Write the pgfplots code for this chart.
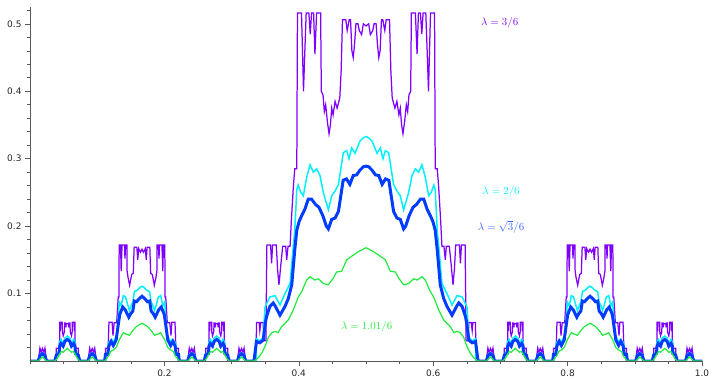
\documentclass[border=0pt]{standalone}
\usepackage{pgfplots}
\pgfplotsset{compat=1.18}
\usepackage{fontspec}
\newfontfamily\dejavu{DejaVu Sans}
\definecolor{cpur}{RGB}{127,0,255}
\definecolor{ccya}{RGB}{0,240,255}
\definecolor{cblu}{RGB}{0,60,255}
\definecolor{cgre}{RGB}{30,235,60}
\begin{document}
\begin{tikzpicture}
\begin{axis}[
  scale only axis, width=672bp, height=354bp,
  xmin=0, xmax=1, ymin=0, ymax=0.525,
  axis lines=left, axis line style={-, black!65, line width=0.6pt},
  axis on top,
  tick align=outside,
  major tick length=5bp, minor tick length=3bp,
  every tick/.style={black!65, line width=0.6pt},
  xtick={0.2,0.4,0.6,0.8,1.0},
  minor xtick={0,0.05,0.1,0.15,0.25,0.3,0.35,0.45,0.5,0.55,0.65,0.7,0.75,0.85,0.9,0.95},
  ytick={0.1,0.2,0.3,0.4,0.5},
  minor ytick={0.02,0.04,0.06,0.08,0.12,0.14,0.16,0.18,0.22,0.24,0.26,0.28,0.32,0.34,0.36,0.38,0.42,0.44,0.46,0.48,0.52},
  /pgf/number format/.cd, fixed, fixed zerofill, precision=1, assume math mode=true,
  /pgfplots/.cd,
  tick label style={font=\dejavu\fontsize{9}{10}\selectfont, text=black!85},
]
\coordinate (sw) at (rel axis cs:0,0);
\coordinate (ne) at (rel axis cs:1,1);
% lambda = 3/6
\addplot[cpur, line width=1.25pt] coordinates {
(0,0)
(0.0123,0)(0.0148,0.019)(0.0165,0.013)(0.0185,0.0185)(0.0206,0.013)(0.0222,0.019)(0.0247,0)
(0.0370,0)(0.0391,0)(0.0392,0.019)(0.0430,0.019)(0.0441,0.0317)(0.0442,0.0573)(0.0449,0.0573)(0.0452,0.0444)(0.0457,0.0573)(0.0481,0.0573)(0.0482,0.044)(0.0494,0.0374)(0.0512,0.0433)(0.0517,0.0562)(0.0530,0.0562)(0.0534,0.050)(0.0539,0.0556)(0.0556,0.0552)(0.0572,0.0556)(0.0577,0.050)(0.0581,0.0562)(0.0594,0.0562)(0.0599,0.0433)(0.0617,0.0374)(0.0629,0.044)(0.0630,0.0573)(0.0654,0.0573)(0.0659,0.0444)(0.0662,0.0573)(0.0669,0.0573)(0.0670,0.0317)(0.0681,0.019)(0.0719,0.019)(0.0720,0)(0.0741,0)
(0.0864,0)(0.0888,0.019)(0.0905,0.013)(0.0926,0.0185)(0.0946,0.013)(0.0963,0.019)(0.0988,0)
(0.1111,0)(0.1122,0)(0.1123,0.019)(0.1157,0.019)(0.1160,0.010)(0.1175,0.0573)(0.1222,0.0573)(0.1235,0.0377)(0.1253,0.0567)(0.1290,0.0567)(0.1313,0.095)(0.1323,0.095)(0.1327,0.172)(0.1347,0.172)(0.1357,0.1333)(0.1370,0.172)(0.1407,0.172)(0.1413,0.1517)(0.1422,0.172)(0.1442,0.172)(0.1445,0.1333)(0.1460,0.1233)(0.1483,0.1123)(0.1513,0.1283)(0.1537,0.13)(0.1550,0.1687)(0.1590,0.1687)(0.1603,0.15)(0.1617,0.1667)(0.1645,0.1613)(0.1667,0.1657)
(0.1688,0.1613)(0.1716,0.1667)(0.1730,0.15)(0.1743,0.1687)(0.1783,0.1687)(0.1796,0.13)(0.1820,0.1283)(0.1850,0.1123)(0.1873,0.1233)(0.1888,0.1333)(0.1891,0.172)(0.1911,0.172)(0.1920,0.1517)(0.1926,0.172)(0.1963,0.172)(0.1976,0.1333)(0.1986,0.172)(0.2006,0.172)(0.2010,0.095)(0.2020,0.095)(0.2043,0.0567)(0.2080,0.0567)(0.2098,0.0377)(0.2111,0.0573)(0.2158,0.0573)(0.2173,0.010)(0.2176,0.019)(0.2210,0.019)(0.2211,0)(0.2222,0)
(0.2346,0)(0.2370,0.019)(0.2387,0.013)(0.2408,0.0185)(0.2428,0.013)(0.2445,0.019)(0.2469,0)
(0.2593,0)(0.2613,0)(0.2614,0.019)(0.2652,0.019)(0.2663,0.0317)(0.2664,0.0573)(0.2671,0.0573)(0.2674,0.0444)(0.2679,0.0573)(0.2703,0.0573)(0.2704,0.044)(0.2716,0.0374)(0.2734,0.0433)(0.2739,0.0562)(0.2752,0.0562)(0.2756,0.050)(0.2761,0.0556)(0.2778,0.0552)(0.2794,0.0556)(0.2799,0.050)(0.2803,0.0562)(0.2816,0.0562)(0.2821,0.0433)(0.2839,0.0374)(0.2851,0.044)(0.2852,0.0573)(0.2876,0.0573)(0.2881,0.0444)(0.2884,0.0573)(0.2891,0.0573)(0.2892,0.0317)(0.2903,0.019)(0.2941,0.019)(0.2942,0)(0.2963,0)
(0.3086,0)(0.3110,0.019)(0.3127,0.013)(0.3148,0.0185)(0.3168,0.013)(0.3185,0.019)(0.3210,0)
(0.3333,0)(0.3365,0)(0.3370,0.057)(0.3410,0.057)(0.3420,0.045)(0.3435,0.057)(0.3470,0.057)(0.3480,0.030)(0.3510,0.030)(0.3525,0.172)(0.3580,0.172)(0.3595,0.145)(0.3610,0.172)(0.3665,0.172)(0.3685,0.135)(0.3705,0.113)(0.3730,0.140)(0.3760,0.170)(0.3805,0.170)(0.3820,0.150)(0.3840,0.170)(0.3870,0.170)(0.3890,0.210)(0.3920,0.260)(0.3940,0.285)(0.3970,0.285)(0.3980,0.516)(0.4040,0.516)(0.4055,0.460)(0.4070,0.400)(0.4090,0.460)(0.4110,0.516)(0.4150,0.516)(0.4170,0.485)(0.4190,0.516)(0.4220,0.516)(0.4240,0.455)(0.4265,0.516)(0.4325,0.516)(0.4335,0.400)(0.4360,0.395)(0.4380,0.370)(0.4400,0.380)(0.4425,0.355)(0.4450,0.337)(0.4470,0.350)(0.4490,0.375)(0.4510,0.365)(0.4540,0.385)(0.4570,0.375)(0.4610,0.390)(0.4630,0.430)(0.4650,0.506)(0.4700,0.506)(0.4720,0.490)(0.4750,0.506)(0.4770,0.506)(0.4790,0.460)(0.4810,0.450)(0.4830,0.470)(0.4850,0.500)(0.4880,0.500)(0.4900,0.490)(0.4935,0.484)(0.4960,0.500)(0.5000,0.497)
(0.504,0.5)(0.5065,0.484)(0.51,0.49)(0.512,0.5)(0.515,0.5)(0.517,0.47)(0.519,0.45)(0.521,0.46)(0.523,0.506)(0.525,0.506)(0.528,0.49)(0.53,0.506)(0.535,0.506)(0.537,0.43)(0.539,0.39)(0.543,0.375)(0.546,0.385)(0.549,0.365)(0.551,0.375)(0.553,0.35)(0.555,0.337)(0.5575,0.355)(0.56,0.38)(0.562,0.37)(0.564,0.395)(0.5665,0.4)(0.5675,0.516)(0.5735,0.516)(0.576,0.455)(0.578,0.516)(0.581,0.516)(0.583,0.485)(0.585,0.516)(0.589,0.516)(0.591,0.46)(0.593,0.4)(0.5945,0.46)(0.596,0.516)(0.602,0.516)(0.603,0.285)(0.606,0.285)(0.608,0.26)(0.611,0.21)(0.613,0.17)(0.616,0.17)(0.618,0.15)(0.6195,0.17)(0.624,0.17)(0.627,0.14)(0.6295,0.113)(0.6315,0.135)(0.6335,0.172)(0.639,0.172)(0.6405,0.145)(0.642,0.172)(0.6475,0.172)(0.649,0.03)(0.652,0.03)(0.653,0.057)(0.6565,0.057)(0.658,0.045)(0.659,0.057)(0.663,0.057)(0.6635,0)(0.6667,0)
(0.6790,0)(0.6814,0.019)(0.6831,0.013)(0.6852,0.0185)(0.6872,0.013)(0.6889,0.019)(0.6914,0)
(0.7037,0)(0.7058,0)(0.7059,0.019)(0.7097,0.019)(0.7108,0.0317)(0.7109,0.0573)(0.7116,0.0573)(0.7119,0.0444)(0.7124,0.0573)(0.7148,0.0573)(0.7149,0.044)(0.7161,0.0374)(0.7179,0.0433)(0.7184,0.0562)(0.7197,0.0562)(0.7201,0.050)(0.7206,0.0556)(0.7223,0.0552)(0.7239,0.0556)(0.7244,0.050)(0.7248,0.0562)(0.7261,0.0562)(0.7266,0.0433)(0.7284,0.0374)(0.7296,0.044)(0.7297,0.0573)(0.7321,0.0573)(0.7326,0.0444)(0.7329,0.0573)(0.7336,0.0573)(0.7337,0.0317)(0.7348,0.019)(0.7386,0.019)(0.7387,0)(0.7408,0)
(0.7531,0)(0.7555,0.019)(0.7572,0.013)(0.7593,0.0185)(0.7613,0.013)(0.7630,0.019)(0.7654,0)
(0.7778,0)(0.7789,0)(0.7790,0.019)(0.7824,0.019)(0.7827,0.010)(0.7842,0.0573)(0.7889,0.0573)(0.7902,0.0377)(0.7920,0.0567)(0.7957,0.0567)(0.7980,0.095)(0.7990,0.095)(0.7994,0.172)(0.8014,0.172)(0.8024,0.1333)(0.8037,0.172)(0.8074,0.172)(0.8080,0.1517)(0.8089,0.172)(0.8109,0.172)(0.8112,0.1333)(0.8127,0.1233)(0.8150,0.1123)(0.8180,0.1283)(0.8204,0.13)(0.8217,0.1687)(0.8257,0.1687)(0.8270,0.15)(0.8284,0.1667)(0.8312,0.1613)(0.8334,0.1657)
(0.8355,0.1613)(0.8383,0.1667)(0.8397,0.15)(0.8410,0.1687)(0.8450,0.1687)(0.8463,0.13)(0.8487,0.1283)(0.8517,0.1123)(0.8540,0.1233)(0.8555,0.1333)(0.8558,0.172)(0.8578,0.172)(0.8587,0.1517)(0.8593,0.172)(0.8630,0.172)(0.8643,0.1333)(0.8653,0.172)(0.8673,0.172)(0.8677,0.095)(0.8687,0.095)(0.8710,0.0567)(0.8747,0.0567)(0.8765,0.0377)(0.8778,0.0573)(0.8825,0.0573)(0.8840,0.010)(0.8843,0.019)(0.8877,0.019)(0.8878,0)(0.8889,0)
(0.9012,0)(0.9036,0.019)(0.9053,0.013)(0.9074,0.0185)(0.9094,0.013)(0.9111,0.019)(0.9136,0)
(0.9259,0)(0.9280,0)(0.9281,0.019)(0.9319,0.019)(0.9330,0.0317)(0.9331,0.0573)(0.9338,0.0573)(0.9341,0.0444)(0.9346,0.0573)(0.9370,0.0573)(0.9371,0.044)(0.9383,0.0374)(0.9401,0.0433)(0.9406,0.0562)(0.9419,0.0562)(0.9423,0.050)(0.9428,0.0556)(0.9445,0.0552)(0.9461,0.0556)(0.9466,0.050)(0.9470,0.0562)(0.9483,0.0562)(0.9488,0.0433)(0.9506,0.0374)(0.9518,0.044)(0.9519,0.0573)(0.9543,0.0573)(0.9548,0.0444)(0.9551,0.0573)(0.9558,0.0573)(0.9559,0.0317)(0.9570,0.019)(0.9608,0.019)(0.9609,0)(0.9630,0)
(0.9753,0)(0.9777,0.019)(0.9794,0.013)(0.9815,0.0185)(0.9835,0.013)(0.9852,0.019)(0.9877,0)
(1,0)
};
% lambda = 2/6
\addplot[ccya, line width=1.5pt] coordinates {
(0,0)
(0.0123,0)(0.0148,0.0095)(0.0185,0.0123)(0.0222,0.0095)(0.0247,0)
(0.0370,0)(0.0392,0.010)(0.0433,0.015)(0.0442,0.029)(0.0463,0.032)(0.0494,0.025)(0.0518,0.034)(0.0556,0.037)(0.0593,0.034)(0.0617,0.025)(0.0648,0.032)(0.0669,0.029)(0.0678,0.015)(0.0719,0.010)(0.0741,0)
(0.0864,0)(0.0889,0.0095)(0.0926,0.0123)(0.0963,0.0095)(0.0988,0)
(0.1111,0)(0.1123,0.011)(0.1157,0.012)(0.1166,0.027)(0.1215,0.032)(0.1240,0.028)(0.1290,0.038)(0.1313,0.065)(0.1330,0.087)(0.1356,0.082)(0.1389,0.097)(0.1422,0.095)(0.1455,0.083)(0.1480,0.075)(0.1513,0.084)(0.1530,0.087)(0.1554,0.103)(0.1596,0.105)(0.1637,0.109)(0.1667,0.111)(0.1697,0.109)(0.1737,0.105)(0.1779,0.103)(0.1803,0.087)(0.1820,0.084)(0.1853,0.075)(0.1878,0.083)(0.1911,0.095)(0.1944,0.097)(0.1977,0.082)(0.2003,0.087)(0.2020,0.065)(0.2043,0.038)(0.2093,0.028)(0.2118,0.032)(0.2167,0.027)(0.2176,0.012)(0.2210,0.011)(0.2222,0)
(0.2346,0)(0.2371,0.0095)(0.2408,0.0123)(0.2445,0.0095)(0.2469,0)
(0.2592,0)(0.2614,0.010)(0.2655,0.015)(0.2664,0.029)(0.2685,0.032)(0.2716,0.025)(0.2740,0.034)(0.2778,0.037)(0.2815,0.034)(0.2839,0.025)(0.2870,0.032)(0.2891,0.029)(0.2900,0.015)(0.2941,0.010)(0.2963,0)
(0.3086,0)(0.3111,0.0095)(0.3148,0.0123)(0.3185,0.0095)(0.3210,0)
(0.3333,0)(0.3365,0)(0.337,0.033)(0.342,0.030)(0.347,0.035)(0.3497,0.080)(0.357,0.095)(0.3646,0.097)(0.372,0.083)(0.3795,0.100)(0.387,0.115)(0.390,0.150)(0.394,0.194)(0.397,0.254)(0.399,0.261)(0.403,0.250)(0.4067,0.245)(0.4117,0.272)(0.4167,0.291)(0.4216,0.280)(0.4266,0.285)(0.4315,0.275)(0.4365,0.250)(0.444,0.224)(0.449,0.245)(0.454,0.252)(0.459,0.262)(0.4663,0.309)(0.4712,0.312)(0.4747,0.300)(0.4787,0.316)(0.4836,0.308)(0.491,0.326)(0.496,0.331)(0.5,0.333)
(0.504,0.331)(0.509,0.326)(0.5164,0.308)(0.5213,0.316)(0.5253,0.300)(0.5288,0.312)(0.5337,0.309)(0.541,0.262)(0.546,0.252)(0.551,0.245)(0.556,0.224)(0.5635,0.250)(0.5685,0.275)(0.5734,0.285)(0.5784,0.280)(0.5833,0.291)(0.5883,0.272)(0.5933,0.245)(0.597,0.250)(0.601,0.261)(0.603,0.254)(0.606,0.194)(0.610,0.150)(0.613,0.115)(0.6205,0.100)(0.628,0.083)(0.6354,0.097)(0.643,0.095)(0.6503,0.080)(0.653,0.035)(0.658,0.030)(0.663,0.033)(0.6635,0)(0.6667,0)
(0.6790,0)(0.6815,0.0095)(0.6852,0.0123)(0.6889,0.0095)(0.6914,0)
(0.7037,0)(0.7059,0.010)(0.7100,0.015)(0.7109,0.029)(0.7130,0.032)(0.7161,0.025)(0.7185,0.034)(0.7223,0.037)(0.7260,0.034)(0.7284,0.025)(0.7315,0.032)(0.7336,0.029)(0.7345,0.015)(0.7386,0.010)(0.7408,0)
(0.7531,0)(0.7556,0.0095)(0.7593,0.0123)(0.7630,0.0095)(0.7654,0)
(0.7778,0)(0.7790,0.011)(0.7824,0.012)(0.7833,0.027)(0.7882,0.032)(0.7907,0.028)(0.7957,0.038)(0.7980,0.065)(0.7997,0.087)(0.8023,0.082)(0.8056,0.097)(0.8089,0.095)(0.8122,0.083)(0.8147,0.075)(0.8180,0.084)(0.8197,0.087)(0.8221,0.103)(0.8263,0.105)(0.8304,0.109)(0.8334,0.111)(0.8364,0.109)(0.8404,0.105)(0.8446,0.103)(0.8470,0.087)(0.8487,0.084)(0.8520,0.075)(0.8545,0.083)(0.8578,0.095)(0.8611,0.097)(0.8644,0.082)(0.8670,0.087)(0.8687,0.065)(0.8710,0.038)(0.8760,0.028)(0.8785,0.032)(0.8834,0.027)(0.8843,0.012)(0.8877,0.011)(0.8889,0)
(0.9012,0)(0.9037,0.0095)(0.9074,0.0123)(0.9111,0.0095)(0.9136,0)
(0.9259,0)(0.9281,0.010)(0.9322,0.015)(0.9331,0.029)(0.9352,0.032)(0.9383,0.025)(0.9407,0.034)(0.9445,0.037)(0.9482,0.034)(0.9506,0.025)(0.9537,0.032)(0.9558,0.029)(0.9567,0.015)(0.9608,0.010)(0.9630,0)
(0.9753,0)(0.9778,0.0095)(0.9815,0.0123)(0.9852,0.0095)(0.9877,0)
(1,0)
};
% lambda = sqrt(3)/6
\addplot[cblu, line width=3pt] coordinates {
(0,0)
(0.0123,0)(0.0148,0.008)(0.0185,0.0107)(0.0222,0.008)(0.0247,0)
(0.0370,0)(0.0392,0.009)(0.0433,0.011)(0.0442,0.022)(0.0460,0.026)(0.0494,0.022)(0.0518,0.029)(0.0556,0.032)(0.0593,0.029)(0.0617,0.022)(0.0651,0.026)(0.0669,0.022)(0.0678,0.011)(0.0719,0.009)(0.0741,0)
(0.0864,0)(0.0889,0.008)(0.0926,0.0107)(0.0963,0.008)(0.0988,0)
(0.1111,0)(0.1123,0.010)(0.1157,0.010)(0.1173,0.022)(0.1207,0.029)(0.1240,0.023)(0.1282,0.031)(0.1315,0.055)(0.1335,0.069)(0.1380,0.080)(0.1417,0.076)(0.1470,0.065)(0.1497,0.070)(0.1530,0.074)(0.1553,0.089)(0.1587,0.088)(0.1620,0.092)(0.1667,0.096)(0.1713,0.092)(0.1746,0.088)(0.1780,0.089)(0.1803,0.074)(0.1836,0.070)(0.1863,0.065)(0.1916,0.076)(0.1953,0.080)(0.1998,0.069)(0.2018,0.055)(0.2051,0.031)(0.2093,0.023)(0.2126,0.029)(0.2160,0.022)(0.2176,0.010)(0.2210,0.010)(0.2222,0)
(0.2346,0)(0.2371,0.008)(0.2408,0.0107)(0.2445,0.008)(0.2469,0)
(0.2592,0)(0.2614,0.009)(0.2655,0.011)(0.2664,0.022)(0.2682,0.026)(0.2716,0.022)(0.2740,0.029)(0.2778,0.032)(0.2815,0.029)(0.2839,0.022)(0.2873,0.026)(0.2891,0.022)(0.2900,0.011)(0.2941,0.009)(0.2963,0)
(0.3086,0)(0.3111,0.008)(0.3148,0.0107)(0.3185,0.008)(0.3210,0)
(0.3333,0)(0.337,0.029)(0.342,0.027)(0.347,0.031)(0.350,0.055)(0.352,0.066)(0.357,0.081)(0.362,0.086)(0.3646,0.082)(0.372,0.068)(0.3795,0.081)(0.3845,0.093)(0.3895,0.113)(0.394,0.165)(0.397,0.194)(0.4005,0.207)(0.404,0.215)(0.409,0.225)(0.414,0.240)(0.419,0.240)(0.425,0.232)(0.430,0.228)(0.436,0.215)(0.441,0.200)(0.444,0.196)(0.449,0.210)(0.454,0.212)(0.459,0.222)(0.466,0.268)(0.471,0.270)(0.476,0.262)(0.481,0.275)(0.486,0.276)(0.491,0.283)(0.496,0.288)(0.5,0.289)
(0.504,0.288)(0.509,0.283)(0.514,0.276)(0.519,0.275)(0.524,0.262)(0.529,0.270)(0.534,0.268)(0.541,0.222)(0.546,0.212)(0.551,0.210)(0.556,0.196)(0.559,0.200)(0.564,0.215)(0.570,0.228)(0.575,0.232)(0.581,0.240)(0.586,0.240)(0.591,0.225)(0.596,0.215)(0.5995,0.207)(0.603,0.194)(0.606,0.165)(0.6105,0.113)(0.6155,0.093)(0.6205,0.081)(0.628,0.068)(0.6354,0.082)(0.638,0.086)(0.643,0.081)(0.648,0.066)(0.650,0.055)(0.653,0.031)(0.658,0.027)(0.663,0.029)(0.6667,0)
(0.6790,0)(0.6815,0.008)(0.6852,0.0107)(0.6889,0.008)(0.6914,0)
(0.7037,0)(0.7059,0.009)(0.7100,0.011)(0.7109,0.022)(0.7127,0.026)(0.7161,0.022)(0.7185,0.029)(0.7223,0.032)(0.7260,0.029)(0.7284,0.022)(0.7318,0.026)(0.7336,0.022)(0.7345,0.011)(0.7386,0.009)(0.7408,0)
(0.7531,0)(0.7556,0.008)(0.7593,0.0107)(0.7630,0.008)(0.7654,0)
(0.7778,0)(0.7790,0.010)(0.7824,0.010)(0.7840,0.022)(0.7874,0.029)(0.7907,0.023)(0.7949,0.031)(0.7982,0.055)(0.8002,0.069)(0.8047,0.080)(0.8084,0.076)(0.8137,0.065)(0.8164,0.070)(0.8197,0.074)(0.8220,0.089)(0.8254,0.088)(0.8287,0.092)(0.8334,0.096)(0.8380,0.092)(0.8413,0.088)(0.8447,0.089)(0.8470,0.074)(0.8503,0.070)(0.8530,0.065)(0.8583,0.076)(0.8620,0.080)(0.8665,0.069)(0.8685,0.055)(0.8718,0.031)(0.8760,0.023)(0.8793,0.029)(0.8827,0.022)(0.8843,0.010)(0.8877,0.010)(0.8889,0)
(0.9012,0)(0.9037,0.008)(0.9074,0.0107)(0.9111,0.008)(0.9136,0)
(0.9259,0)(0.9281,0.009)(0.9322,0.011)(0.9331,0.022)(0.9349,0.026)(0.9383,0.022)(0.9407,0.029)(0.9445,0.032)(0.9482,0.029)(0.9506,0.022)(0.9540,0.026)(0.9558,0.022)(0.9567,0.011)(0.9608,0.009)(0.9630,0)
(0.9753,0)(0.9778,0.008)(0.9815,0.0107)(0.9852,0.008)(0.9877,0)
(1,0)
};
% lambda = 1.01/6
\addplot[cgre, line width=1.2pt] coordinates {
(0,0)
(0.0123,0)(0.0185,0.006)(0.0247,0)
(0.0370,0)(0.0407,0.004)(0.0444,0.011)(0.0463,0.014)(0.0494,0.013)(0.0556,0.0187)(0.0617,0.013)(0.0648,0.014)(0.0667,0.011)(0.0704,0.004)(0.0741,0)
(0.0864,0)(0.0926,0.006)(0.0988,0)
(0.1111,0)(0.1167,0.007)(0.1200,0.014)(0.1249,0.017)(0.1282,0.020)(0.1331,0.032)(0.1389,0.042)(0.1430,0.040)(0.1480,0.038)(0.1521,0.044)(0.1571,0.050)(0.1629,0.054)(0.1667,0.056)(0.1704,0.054)(0.1762,0.050)(0.1812,0.044)(0.1853,0.038)(0.1903,0.040)(0.1944,0.042)(0.2002,0.032)(0.2051,0.020)(0.2084,0.017)(0.2133,0.014)(0.2166,0.007)(0.2222,0)
(0.2346,0)(0.2408,0.006)(0.2469,0)
(0.2592,0)(0.2629,0.004)(0.2666,0.011)(0.2685,0.014)(0.2716,0.013)(0.2778,0.0187)(0.2839,0.013)(0.2870,0.014)(0.2889,0.011)(0.2926,0.004)(0.2963,0)
(0.3086,0)(0.3148,0.006)(0.3210,0)
(0.3333,0)(0.340,0.005)(0.345,0.012)(0.350,0.022)(0.355,0.036)(0.360,0.042)(0.3646,0.044)(0.369,0.042)(0.3745,0.051)(0.3795,0.056)(0.3844,0.061)(0.392,0.076)(0.3993,0.095)(0.4043,0.103)(0.4117,0.120)(0.4167,0.125)(0.424,0.120)(0.429,0.122)(0.4365,0.115)(0.444,0.113)(0.4514,0.123)(0.4563,0.132)(0.4638,0.133)(0.4712,0.150)(0.481,0.157)(0.4886,0.162)(0.5,0.168)
(0.5114,0.162)(0.519,0.157)(0.5288,0.150)(0.5362,0.133)(0.5437,0.132)(0.5486,0.123)(0.556,0.113)(0.5635,0.115)(0.571,0.122)(0.576,0.120)(0.5833,0.125)(0.5883,0.120)(0.5957,0.103)(0.6007,0.095)(0.608,0.076)(0.6156,0.061)(0.6205,0.056)(0.6255,0.051)(0.631,0.042)(0.6354,0.044)(0.640,0.042)(0.645,0.036)(0.650,0.022)(0.655,0.012)(0.660,0.005)(0.6667,0)
(0.6790,0)(0.6852,0.006)(0.6914,0)
(0.7037,0)(0.7074,0.004)(0.7111,0.011)(0.7130,0.014)(0.7161,0.013)(0.7223,0.0187)(0.7284,0.013)(0.7315,0.014)(0.7334,0.011)(0.7371,0.004)(0.7408,0)
(0.7531,0)(0.7593,0.006)(0.7654,0)
(0.7778,0)(0.7834,0.007)(0.7867,0.014)(0.7916,0.017)(0.7949,0.020)(0.7998,0.032)(0.8056,0.042)(0.8097,0.040)(0.8147,0.038)(0.8188,0.044)(0.8238,0.050)(0.8296,0.054)(0.8334,0.056)(0.8371,0.054)(0.8429,0.050)(0.8479,0.044)(0.8520,0.038)(0.8570,0.040)(0.8611,0.042)(0.8669,0.032)(0.8718,0.020)(0.8751,0.017)(0.8800,0.014)(0.8833,0.007)(0.8889,0)
(0.9012,0)(0.9074,0.006)(0.9136,0)
(0.9259,0)(0.9296,0.004)(0.9333,0.011)(0.9352,0.014)(0.9383,0.013)(0.9445,0.0187)(0.9506,0.013)(0.9537,0.014)(0.9556,0.011)(0.9593,0.004)(0.9630,0)
(0.9753,0)(0.9815,0.006)(0.9877,0)
(1,0)
};
\node[text=cpur, font=\fontsize{10.5}{12}\selectfont] at (axis cs:0.699,0.501) {$\lambda=3/6$};
\node[text=ccya, font=\fontsize{10.5}{12}\selectfont] at (axis cs:0.701,0.251) {$\lambda=2/6$};
\node[text=cblu!80!white, font=\fontsize{10.5}{12}\selectfont] at (axis cs:0.701,0.199) {$\lambda=\sqrt{3}/6$};
\node[text=cgre, font=\fontsize{10.5}{12}\selectfont] at (axis cs:0.501,0.051) {$\lambda=1.01/6$};
\end{axis}
\pgfresetboundingbox
\path[use as bounding box] ([shift={(-30bp,-18bp)}]sw) rectangle ([shift={(14bp,7bp)}]ne);
\end{tikzpicture}
\end{document}
